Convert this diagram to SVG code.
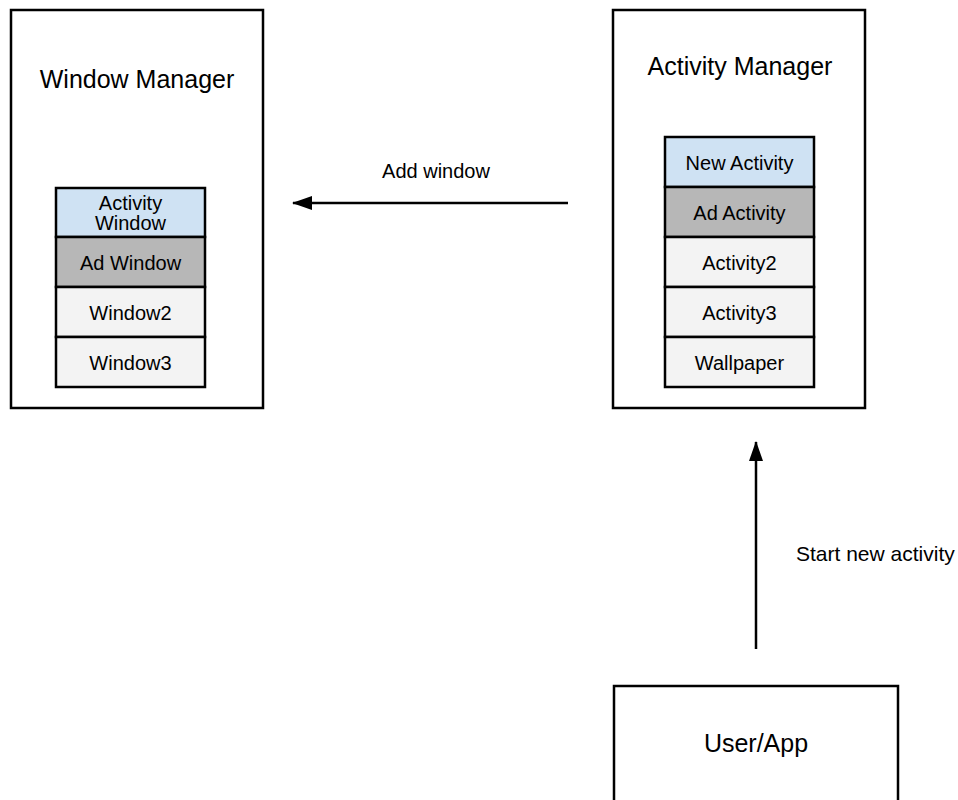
<svg xmlns="http://www.w3.org/2000/svg" width="958" height="800" viewBox="0 0 958 800">
<defs>
<style>
.box{fill:#ffffff;stroke:#000;stroke-width:2.5}
.cell{stroke:#000;stroke-width:2.5}
.blue{fill:#cfe2f3}
.gray{fill:#b7b7b7}
.light{fill:#f3f3f3}
text{font-family:"Liberation Sans",Arial,sans-serif;fill:#000;text-anchor:middle}
.title{font-size:25px}
.lbl{font-size:20px}
.edge{stroke:#000;stroke-width:2.5;fill:none}
</style>
<marker id="arr" viewBox="0 0 20 14" refX="19" refY="7" markerWidth="20" markerHeight="14" orient="auto" markerUnits="userSpaceOnUse">
<path d="M0,0 L20,7 L0,14 z" fill="#000"/>
</marker>
</defs>
<rect width="958" height="800" fill="#fff"/>
<g id="window-manager">
<rect class="box" x="11" y="10" width="252" height="398"/>
<text class="title" x="137" y="88">Window Manager</text>
<rect class="cell blue" x="56" y="188" width="149" height="49"/>
<text class="lbl" x="130.5" y="210">Activity</text>
<text class="lbl" x="130.5" y="230">Window</text>
<rect class="cell gray" x="56" y="237" width="149" height="50"/>
<text class="lbl" x="130.5" y="270">Ad Window</text>
<rect class="cell light" x="56" y="287" width="149" height="50"/>
<text class="lbl" x="130.5" y="320">Window2</text>
<rect class="cell light" x="56" y="337" width="149" height="50"/>
<text class="lbl" x="130.5" y="370">Window3</text>
</g>
<g id="activity-manager">
<rect class="box" x="613" y="10" width="252" height="398"/>
<text class="title" x="740" y="75">Activity Manager</text>
<rect class="cell blue" x="665" y="137" width="149" height="50"/>
<text class="lbl" x="739.5" y="170">New Activity</text>
<rect class="cell gray" x="665" y="187" width="149" height="50"/>
<text class="lbl" x="739.5" y="220">Ad Activity</text>
<rect class="cell light" x="665" y="237" width="149" height="50"/>
<text class="lbl" x="739.5" y="270">Activity2</text>
<rect class="cell light" x="665" y="287" width="149" height="50"/>
<text class="lbl" x="739.5" y="320">Activity3</text>
<rect class="cell light" x="665" y="337" width="149" height="50"/>
<text class="lbl" x="739.5" y="370">Wallpaper</text>
</g>
<g id="user-app">
<rect class="box" x="614" y="686" width="284" height="130"/>
<text class="title" x="756" y="752">User/App</text>
</g>
<g id="connectors">
<line class="edge" x1="568" y1="203" x2="293" y2="203" marker-end="url(#arr)"/>
<text class="lbl" x="436" y="178">Add window</text>
<line class="edge" x1="756" y1="649" x2="756" y2="442" marker-end="url(#arr)"/>
<text class="lbl" x="796" y="561" style="text-anchor:start;font-size:21px">Start new activity</text>
</g>
</svg>
